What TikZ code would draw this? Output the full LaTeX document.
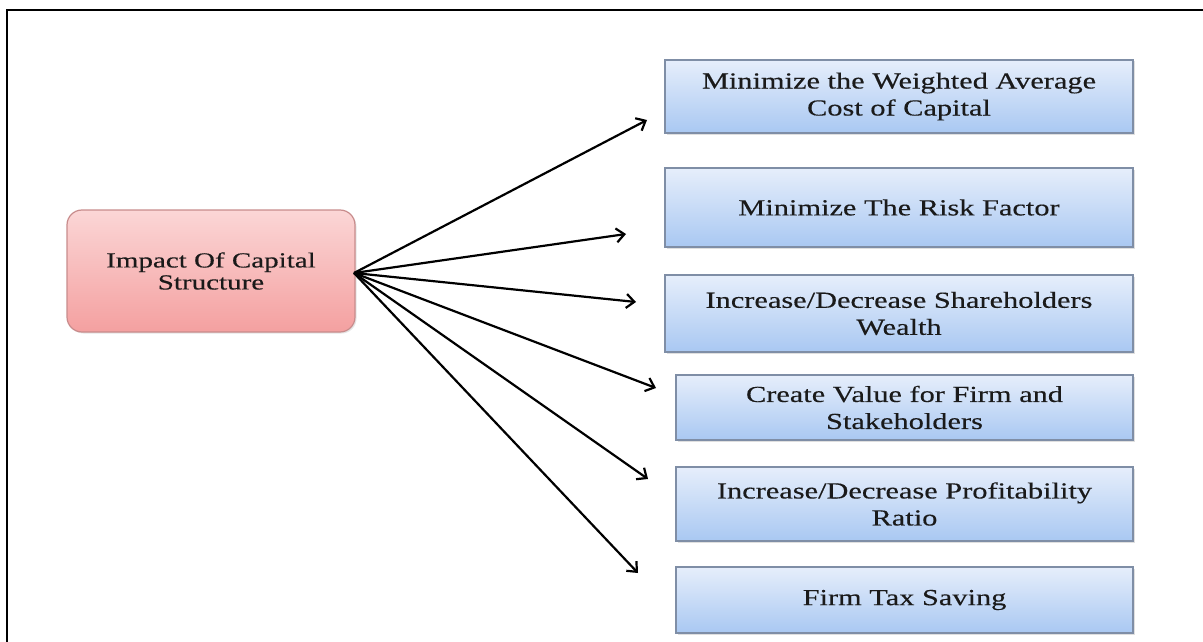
\documentclass[tikz,border=0pt]{standalone}
\usepackage{fontspec}
\setmainfont{Liberation Serif}
\newfontfamily\boxfont[FakeStretch=1.32,FakeBold=0.3]{Liberation Serif}
\newfontfamily\srcfont[FakeStretch=1.35,FakeBold=0.3]{Liberation Serif}
\usetikzlibrary{arrows.meta,shadows}
\definecolor{pinktop}{HTML}{FBD6D6}
\definecolor{pinkbot}{HTML}{F4A0A0}
\definecolor{pinkline}{HTML}{C88C8C}
\definecolor{bluetop}{HTML}{E6EEFB}
\definecolor{bluebot}{HTML}{A9C8F2}
\definecolor{blueline}{HTML}{7F8EA6}
\definecolor{textcol}{HTML}{1A1A1A}
\tikzset{
  outbox/.style={draw=blueline, line width=1.2pt, top color=bluetop, bottom color=bluebot,
    minimum height=#1, inner sep=0pt, text=textcol, align=center,
    font=\boxfont\fontsize{23}{27}\selectfont,
    drop shadow={shadow xshift=1.5pt, shadow yshift=-1.5pt, fill=black!25}},
  srcbox/.style={draw=pinkline, line width=1.2pt, top color=pinktop, bottom color=pinkbot,
    rounded corners=15pt, minimum width=288pt, minimum height=122pt, inner sep=0pt,
    text=textcol, align=center, font=\srcfont\fontsize{21.5}{22}\selectfont,
    drop shadow={shadow xshift=1.5pt, shadow yshift=-1.5pt, fill=black!20}},
  fanarrow/.style={line width=2.2pt, -{Straight Barb[length=8pt,width=14pt,line width=2.2pt]}}
}
\begin{document}
\begin{tikzpicture}[x=1pt,y=-1pt]
\useasboundingbox (0,0) rectangle (1203,642);
\begin{scope}
\clip (0,0) rectangle (1203,642);
\draw[line width=2pt] (6.5,10) rectangle (1215,660);
\end{scope}
% source
\node[srcbox] (src) at (211,271) {Impact Of Capital\\Structure};
% targets
\node[outbox=73pt, minimum width=468pt] (t1) at (899,96.5) {Minimize the Weighted Average\\Cost of Capital};
\node[outbox=79pt, minimum width=468pt] (t2) at (899,207.5) {Minimize The Risk Factor};
\node[outbox=77pt, minimum width=468pt] (t3) at (899,313.5) {Increase/Decrease Shareholders\\Wealth};
\node[outbox=65pt, minimum width=457pt] (t4) at (904.5,407.5) {Create Value for Firm and\\Stakeholders};
\node[outbox=74pt, minimum width=457pt] (t5) at (904.5,504) {Increase/Decrease Profitability\\Ratio};
\node[outbox=66pt, minimum width=457pt] (t6) at (904.5,600) {Firm Tax Saving};
% fan
\coordinate (o) at (354,273);
\coordinate (e1) at (647,120);
\coordinate (e2) at (626,234);
\coordinate (e3) at (636,302);
\coordinate (e4) at (656,388);
\coordinate (e5) at (648,479);
\coordinate (e6) at (638,573);
\foreach \i in {1,...,6} \draw[fanarrow] (o) -- (e\i);
\end{tikzpicture}
\end{document}
